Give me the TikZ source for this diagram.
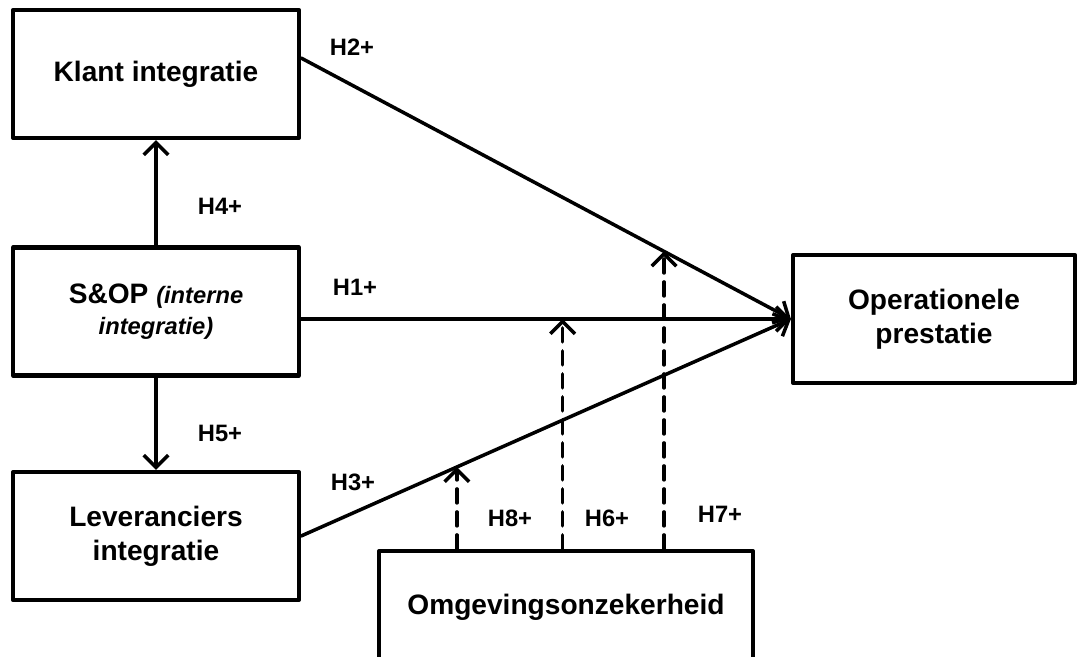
\documentclass[tikz,border=0pt]{standalone}
\usepackage{fontspec}
\setmainfont{Liberation Sans}
\usetikzlibrary{arrows.meta,calc}

\tikzset{
  box/.style={draw, line width=2.4pt, rectangle, align=center, inner sep=0pt,
    minimum width=5.72cm, minimum height=2.56cm,
    font=\fontsize{16}{19.3}\selectfont\bfseries},
  hyp/.style={font=\fontsize{13.5}{16}\selectfont\bfseries, inner sep=0pt},
  link/.style={line width=2pt, -{Straight Barb[length=7pt,width=14pt]}},
  mod/.style={link, dash pattern=on 0.28cm off 0.18cm}
}

\begin{document}
\begin{tikzpicture}[x=0.02cm, y=-0.02cm, line join=round, line cap=round]
\useasboundingbox (0,0) rectangle (1077,656);

\node[box] (klant) at (156,74) {Klant integratie};
\node[box] (sop) at (156,311.5) {S\&OP {\fontsize{13.5}{17.5}\selectfont\itshape (interne}\\[-1.5pt]
  {\fontsize{13.5}{17.5}\selectfont\itshape integratie)}};
\node[box] (lev) at (156,536) {Leveranciers\\integratie};
\node[box, minimum width=5.64cm] (op) at (934,319) {Operationele\\prestatie};
\node[box, minimum width=7.48cm, minimum height=2.24cm] (omg) at (566,607) {Omgevingsonzekerheid};

\coordinate (kout) at ([yshift=0.32cm]klant.east);
\coordinate (sout) at (sop.east |- op.west);

% direct effects
\draw[link] (sop.north) -- (klant.south);
\draw[link] (sop.south) -- (lev.north);
\draw[link] (kout) -- (op.west);
\draw[link] (sout) -- (op.west);
\draw[link] (lev.east) -- (op.west);

% moderation
\coordinate (m8) at ($(lev.east)!0.318!(op.west)$);
\coordinate (m6) at ($(sout)!0.534!(op.west)$);
\coordinate (m7) at ($(kout)!0.741!(op.west)$);
\foreach \m in {m8,m6,m7}
    \draw[mod] (omg.north -| \m) -- (\m);

\node[hyp] (h2) at (352,47) {H2+};
\node[hyp] (h4) at (220,206) {H4+};
\node[hyp] (h1) at (355,287) {H1+};
\node[hyp] (h5) at (220,433) {H5+};
\node[hyp] (h3) at (353,482) {H3+};
\node[hyp] (h8) at (510,518) {H8+};
\node[hyp] (h6) at (607,518) {H6+};
\node[hyp] (h7) at (720,514) {H7+};
\end{tikzpicture}
\end{document}
